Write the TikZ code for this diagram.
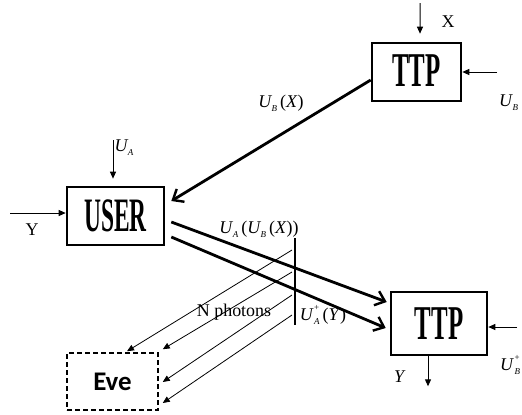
\documentclass[tikz,border=0pt]{standalone}
\usepackage{fontspec}
\setmainfont{Liberation Serif}
\newfontfamily\evefont{Carlito}
\usetikzlibrary{arrows.meta,calc}
\newcommand{\Uv}[1]{\textit{U}\kern-0.5pt\raisebox{-0.5ex}{\fontsize{9}{9}\selectfont\textit{#1}}}
\newcommand{\Uvp}[1]{\textit{U}\kern0.5pt\rlap{\raisebox{1.1ex}{\fontsize{9}{9}\selectfont +}}\raisebox{-0.5ex}{\fontsize{9}{9}\selectfont\textit{#1}}}
\begin{document}
\begin{tikzpicture}[x=1bp,y=-1bp]
\useasboundingbox (0,0) rectangle (522,414);
\tikzset{
 box/.style={draw, line width=2.6bp, inner sep=0pt},
 thickarrow/.style={line width=2.8bp, -{Straight Barb[length=9bp,width=15bp,line width=2.4bp]}},
 thinarrow/.style={line width=0.8bp, -{Triangle[length=7bp,width=6bp]}},
 inarrow/.style={line width=1bp, -{Triangle[length=7bp,width=6bp]}},
 lbl/.style={font=\fontsize{18}{18}\selectfont, inner sep=0pt},
 bigtxt/.style={font=\bfseries\fontsize{25}{25}\selectfont}
}
% boxes
\node[box, bigtxt, minimum width=89bp, minimum height=58bp] (ttp1) at (416.5,72) {\raisebox{2bp}{\scalebox{1}[1.95]{TTP}}};
\node[box, font=\bfseries\fontsize{23.5}{23.5}\selectfont, minimum width=97bp, minimum height=58bp] (user) at (115.5,216) {\scalebox{1}[2.05]{USER}};
\node[box, bigtxt, minimum width=96bp, minimum height=63bp] (ttp2) at (439,323.5) {\scalebox{1}[1.95]{TTP}};
\node[draw, line width=1.5bp, dash pattern=on 5bp off 3bp, minimum width=91bp, minimum height=57bp, inner sep=0pt, font=\evefont\bfseries\fontsize{27}{27}\selectfont] (eve) at (112.5,381.5) {Eve};

% inputs to TTP1
\coordinate (xin) at (420,3);
\draw[inarrow] (xin) -- ($(ttp1.north)+(3.5,-8)$);
\node[lbl] (xl) at (448,22) {X};
\coordinate (ubin) at (497,72);
\draw[inarrow] (ubin) -- (ttp1.east);
\node[lbl, anchor=west] (ubl) at (499,103) {\Uv{B}};

% inputs to USER
\coordinate (uain) at (113,140);
\draw[inarrow] (uain) -- ($(user.north)+(-2.5,-7)$);
\node[lbl] (ual) at (124,148) {\Uv{A}};
\coordinate (yin) at (10,213);
\draw[inarrow] (yin) -- (user.west |- yin);
\node[lbl] (yl) at (32,230) {Y};

% TTP1 -> USER
\draw[thickarrow] ($(ttp1.west)+(0,8)$) -- ($(user.east)+(6,-15)$);
\node[lbl] (ubxl) at (281,103) {\Uv{B}\,(\textit{X})};

% USER -> TTP2
\draw[thickarrow] ($(user.east)+(6,6)$) -- ($(ttp2.west)+(-3,-21.5)$);
\draw[thickarrow] ($(user.east)+(6,21)$) -- ($(ttp2.west)+(-4,4.5)$);
\node[lbl] (uaubl) at (259,229) {\Uv{A}\,(\Uv{B}\,(\textit{X}))};

% vertical barrier
\coordinate (vt) at (295,238);
\coordinate (vb) at (295,325);
\draw[line width=2.5bp] (vt) -- (vb);

% photons to Eve
\draw[thinarrow] ($(vt)+(-3,12)$) -- ($(eve.north)+(14.5,-1)$);
\draw[thinarrow] ($(vt)+(-3,34)$) -- ($(eve.north east)+(4,-3)$);
\draw[thinarrow] ($(vt)+(-3,57)$) -- ($(eve.east)+(4,0.5)$);
\draw[thinarrow] ($(vt)+(-3,77)$) -- ($(eve.east)+(4,21.5)$);
\node[lbl] (npl) at (234,312) {N photons};
\node[lbl] (uayl) at (323,315) {\Uvp{A}\,(\textit{Y})};

% TTP2 in/out
\coordinate (ubpin) at (517,327);
\draw[inarrow] (ubpin) -- (ttp2.east |- ubpin);
\node[lbl, anchor=west] (ubpl) at (500,365) {\Uvp{B}};
\coordinate (yout) at ($(ttp2.south)+(-11,30)$);
\draw[inarrow] ($(ttp2.south)+(-11,0)$) -- (yout);
\node[lbl] (yol) at (400,377) {\textit{Y}};
\end{tikzpicture}
\end{document}
